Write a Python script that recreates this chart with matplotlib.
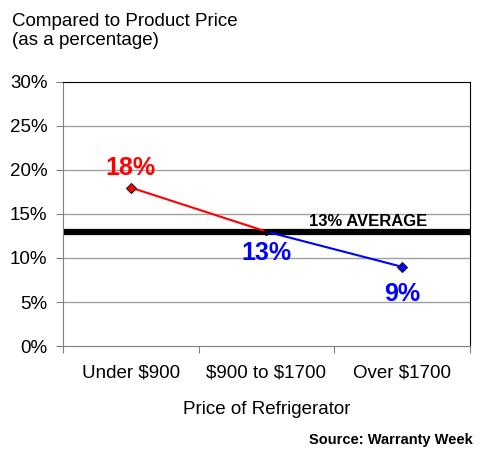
import matplotlib.pyplot as plt

plt.rcParams['font.family'] = ['Liberation Sans', 'DejaVu Sans']
plt.rcParams['text.parse_math'] = False

categories = ['Under $900', '$900 to $1700', 'Over $1700']
values = [18, 13, 9]
average = 13
yticks = [0, 5, 10, 15, 20, 25, 30]

fig = plt.figure(figsize=(4.8, 4.5), dpi=100)
ax = fig.add_axes([0.131, 0.231, 0.848, 0.587])

x = list(range(len(categories)))

# grid
for t in yticks[1:-1]:
    ax.axhline(t, color='#a0a0a0', lw=1, zorder=0)

# average line
ax.axhline(average, color='black', lw=4.5, zorder=2)
ax.text(1.75, average + 0.35, f'{average}% AVERAGE', fontsize=12, fontweight='bold',
        ha='center', va='bottom', zorder=5)

# red and blue segments
ax.plot(x[:2], values[:2], color='red', lw=1.5, zorder=3)
ax.plot(x[1:], values[1:], color='blue', lw=1.5, zorder=3)
ax.plot(x[0], values[0], marker='D', ms=5, mfc='red', mec='#202020', mew=0.8, zorder=4)
ax.plot(x[1], values[1], marker='D', ms=3, mfc='black', mec='black', zorder=4)
ax.plot(x[2], values[2], marker='D', ms=5, mfc='blue', mec='#202020', mew=0.8, zorder=4)

ax.text(x[0], values[0] + 0.9, f'{values[0]}%', color='red', fontsize=18,
        fontweight='bold', ha='center', va='bottom', zorder=5)
ax.text(x[1], values[1] - 1.1, f'{values[1]}%', color='blue', fontsize=18,
        fontweight='bold', ha='center', va='top', zorder=5)
ax.text(x[2], values[2] - 1.7, f'{values[2]}%', color='blue', fontsize=18,
        fontweight='bold', ha='center', va='top', zorder=5)

ax.set_xlim(-0.5, 2.5)
ax.set_ylim(0, 30)
ax.set_yticks(yticks)
ax.set_yticklabels([f'{t}%' for t in yticks], fontsize=13.5)
ax.set_xticks([-0.5, 0.5, 1.5, 2.5])
ax.set_xticklabels([])
ax.set_xticks(x, minor=True)
ax.set_xticklabels(categories, minor=True, fontsize=13.5)
ax.tick_params(axis='x', which='minor', length=0, pad=13)
ax.tick_params(axis='x', which='major', length=5, color='#808080', direction='out')
ax.tick_params(axis='y', length=5, color='#808080', direction='out', pad=6)

for s in ['left', 'bottom']:
    ax.spines[s].set_color('#808080')
for s in ['top', 'right']:
    ax.spines[s].set_color('black')

ax.set_xlabel('Price of Refrigerator', fontsize=13.5, labelpad=14)

fig.text(0.025, 0.97, 'Compared to Product Price\n(as a percentage)', fontsize=13.5,
         ha='left', va='top', linespacing=1.15)
fig.text(0.985, 0.006, 'Source: Warranty Week', fontsize=10.5, fontweight='bold',
         ha='right', va='bottom')

fig.savefig('out.png', dpi=100)
